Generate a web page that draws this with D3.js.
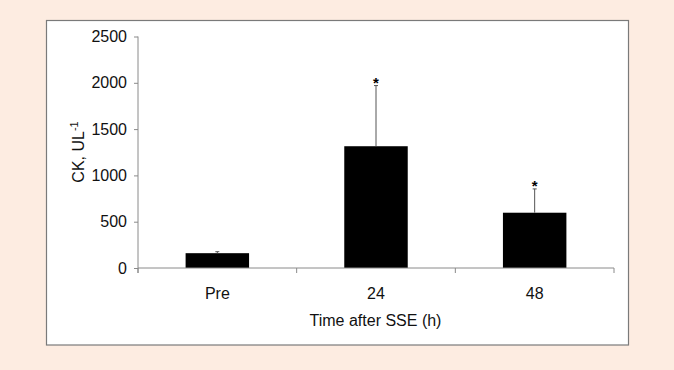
<!DOCTYPE html>
<html>
<head>
<meta charset="utf-8">
<script src="https://cdn.jsdelivr.net/npm/d3@7"></script>
<style>
  body { margin: 0; background: #fdece1; }
  svg { display: block; }
</style>
</head>
<body>
<svg id="chart" width="674" height="370"></svg>
<script>
// CK values
var categories = ['Pre', '24', '48']
var means = [160, 1315, 597]
var errs = [16, 655, 257]       // upper SD, added on top of the mean
var stars = [false, true, true]
var yTicks = [0, 500, 1000, 1500, 2000, 2500]

var svg = d3.select('#chart')
var font = 'Liberation Sans, Arial, sans-serif'

// white framed panel
svg.append('rect')
    .attr('x', 46.5).attr('y', 20.5)
    .attr('width', 582).attr('height', 324.5)
    .attr('fill', '#fff')
    .attr('stroke', '#7a7a7a')
    .attr('stroke-width', 1.2)

var conf = { left: 138, right: 614, top: 36.5, bottom: 268 }

var x = d3.scaleBand()
    .domain(categories)
    .range([conf.left, conf.right])
    .paddingInner(0.6)
    .paddingOuter(0.3)
var step = x.step()

var y = d3.scaleLinear().domain([0, 2500]).range([conf.bottom, conf.top])

// y axis
var yAxis = svg.append('g')
    .attr('transform', 'translate(' + conf.left + ',0)')
    .call(d3.axisLeft(y).tickValues(yTicks).tickFormat(d3.format('d')).tickSize(4).tickPadding(7))
yAxis.select('.domain').attr('stroke', '#8a8a8a').attr('d', 'M0,' + conf.top + 'V' + (conf.bottom + 5))
yAxis.selectAll('.tick line').attr('stroke', '#8a8a8a')
yAxis.selectAll('.tick text')
    .attr('fill', '#111')
    .style('font-family', font)
    .style('font-size', '16px')

// bars
svg.selectAll('.bar')
    .data(categories)
    .enter().append('rect')
    .attr('class', 'bar')
    .attr('x', d => x(d))
    .attr('y', (d, i) => y(means[i]))
    .attr('width', x.bandwidth())
    .attr('height', (d, i) => y(0) - y(means[i]))
    .attr('fill', '#000')

// error bars (upper only)
var eb = svg.selectAll('.err')
    .data(categories)
    .enter().append('g')
    .attr('class', 'err')
    .attr('transform', d => 'translate(' + (x(d) + x.bandwidth() / 2) + ',0)')
eb.append('line')
    .attr('x1', 0).attr('x2', 0)
    .attr('y1', (d, i) => y(means[i]))
    .attr('y2', (d, i) => y(means[i] + errs[i]))
    .attr('stroke', '#555').attr('stroke-width', 1)
eb.append('line')
    .attr('x1', -2).attr('x2', 2)
    .attr('y1', (d, i) => y(means[i] + errs[i]))
    .attr('y2', (d, i) => y(means[i] + errs[i]))
    .attr('stroke', '#555').attr('stroke-width', 1)
eb.filter((d, i) => stars[i]).append('text')
    .attr('y', (d) => y(means[categories.indexOf(d)] + errs[categories.indexOf(d)]) + 2)
    .attr('text-anchor', 'middle')
    .attr('fill', '#000')
    .style('font-family', font)
    .style('font-size', '15px')
    .style('font-weight', 'bold')
    .text('*')

// x axis: baseline with category separators
var xg = svg.append('g').attr('transform', 'translate(0,' + conf.bottom + ')')
xg.append('line')
    .attr('x1', conf.left).attr('x2', conf.right)
    .attr('stroke', '#8a8a8a').attr('stroke-width', 1)
xg.selectAll('.sep')
    .data(d3.range(categories.length + 1))
    .enter().append('line')
    .attr('x1', i => conf.left + i * step).attr('x2', i => conf.left + i * step)
    .attr('y1', 0).attr('y2', 5)
    .attr('stroke', '#8a8a8a')
xg.selectAll('.lab')
    .data(categories)
    .enter().append('text')
    .attr('x', d => x(d) + x.bandwidth() / 2)
    .attr('y', 31)
    .attr('text-anchor', 'middle')
    .attr('fill', '#111')
    .style('font-family', font)
    .style('font-size', '16px')
    .text(d => d)

svg.append('text')
    .attr('x', conf.left + (conf.right - conf.left) / 2 - 0.5)
    .attr('y', 326)
    .attr('text-anchor', 'middle')
    .attr('fill', '#111')
    .style('font-family', font)
    .style('font-size', '16px')
    .text('Time after SSE (h)')

// y title with superscript
var yt = svg.append('text')
    .attr('transform', 'translate(84,152) rotate(-90)')
    .attr('text-anchor', 'middle')
    .attr('fill', '#111')
    .style('font-family', font)
    .style('font-size', '16px')
yt.append('tspan').text('CK, UL')
yt.append('tspan').attr('dy', -6).style('font-size', '11px').text('-1')
</script>
</body>
</html>
